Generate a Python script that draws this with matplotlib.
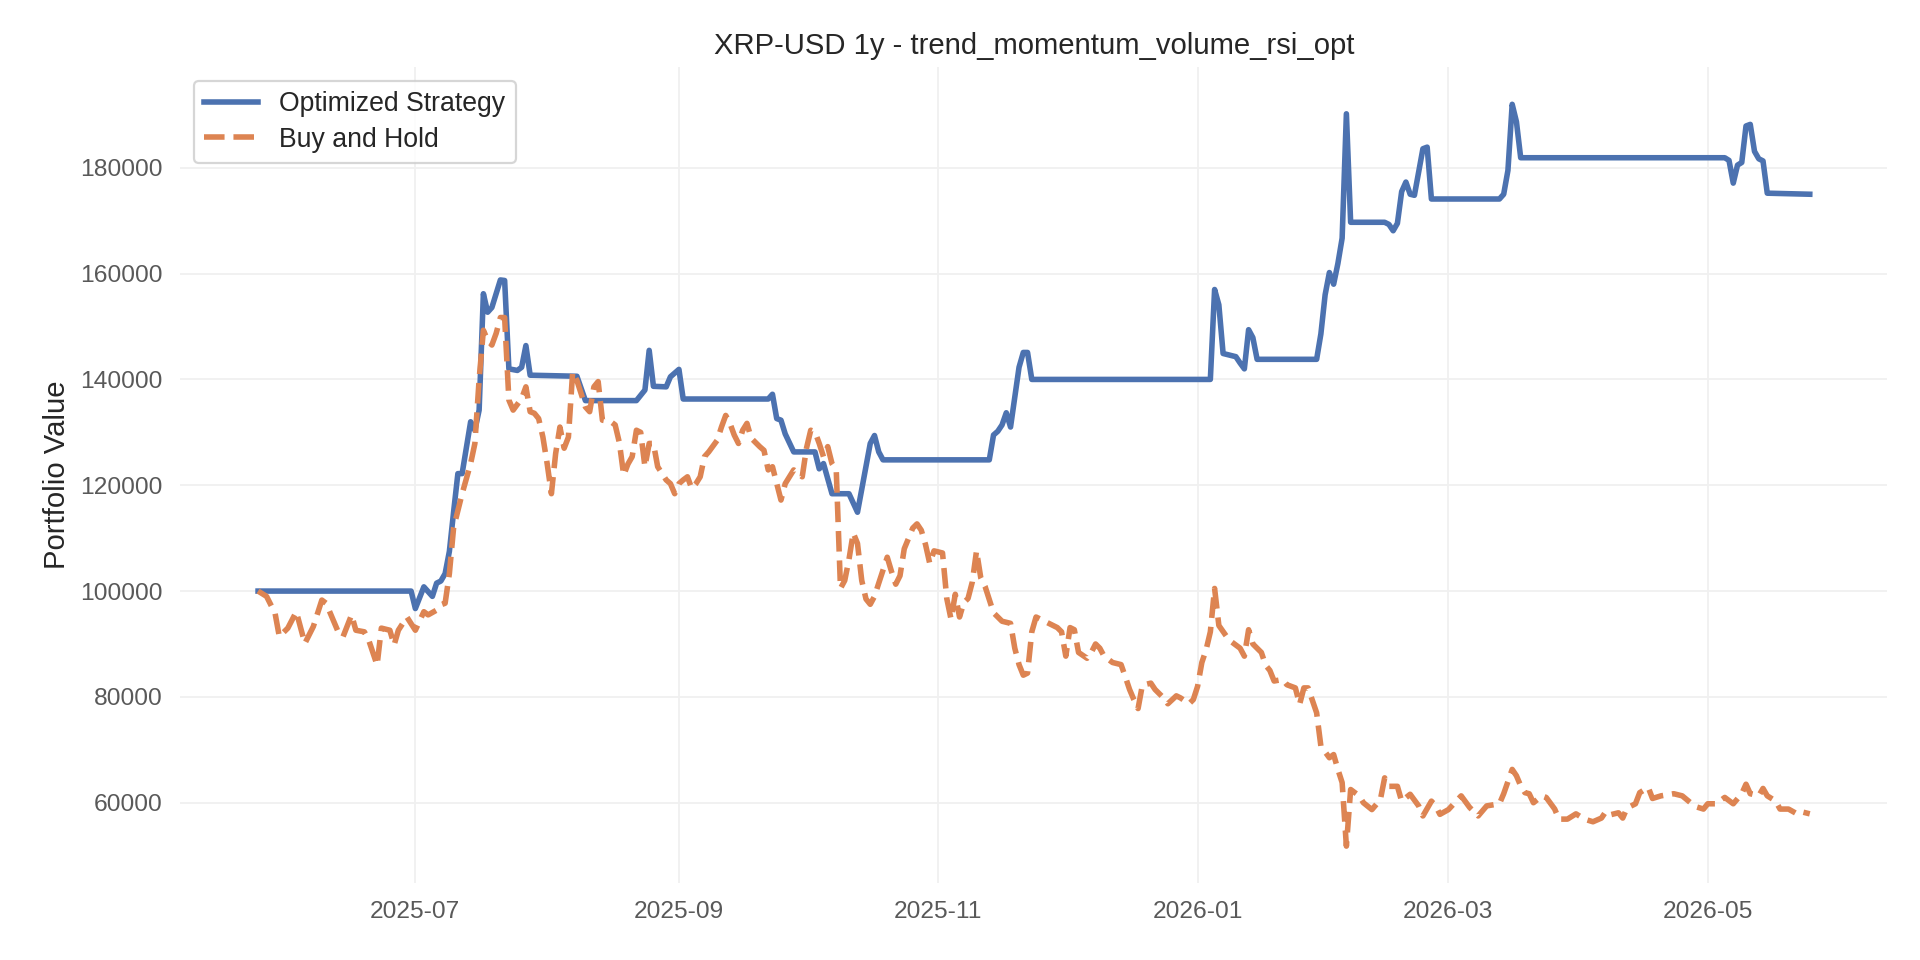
import pandas as pd
import matplotlib
matplotlib.use("Agg")
import matplotlib.pyplot as plt
import matplotlib.dates as mdates

# Data (day offsets from the start date)
start_date = pd.Timestamp("2025-05-25")

strategy_days = [0, 36, 37, 39, 41, 42, 43, 44, 45, 46, 47, 48, 50, 51, 52, 53, 54, 55, 56, 57,
                 58, 59, 61, 62, 63, 64, 75, 77, 89, 91, 92, 93, 96, 97, 99, 100, 120, 121, 122, 123,
                 124, 126, 131, 132, 133, 135, 139, 141, 144, 145, 146, 147, 172, 173, 174, 175, 176, 177, 179, 180,
                 181, 182, 224, 225, 226, 227, 230, 231, 232, 233, 234, 235, 249, 250, 251, 252, 253, 254, 255, 256,
                 257, 265, 266, 267, 268, 269, 270, 271, 272, 274, 275, 276, 292, 293, 294, 295, 296, 297, 345, 346,
                 347, 348, 349, 350, 351, 352, 353, 354, 355, 365]
strategy_values = [100000, 100000, 96700, 100800, 99000, 101500, 101900, 103300, 107500, 115000,
                   122200, 122200, 132000, 130400, 134200, 156200, 152700, 153600, 156200, 158800,
                   158700, 142000, 141700, 142300, 146400, 140800, 140600, 136000, 136000, 138000,
                   145500, 138700, 138600, 140500, 141900, 136300, 136300, 137200, 132600, 132300,
                   129700, 126300, 126300, 123100, 124100, 118400, 118400, 114900, 127900, 129400,
                   126300, 124800, 124800, 129500, 130200, 131400, 133700, 131000, 142300, 145100,
                   145100, 140000, 140000, 157000, 154100, 144900, 144300, 143100, 142000, 149400,
                   147900, 143800, 143800, 148600, 156000, 160200, 158000, 161900, 166700, 190200,
                   169700, 169700, 169300, 168100, 169500, 175500, 177300, 175000, 174800, 183600,
                   183900, 174100, 174100, 175000, 179500, 192000, 188700, 181900, 181900, 181400,
                   177100, 180500, 181000, 187900, 188200, 183100, 181700, 181300, 175200, 175000]

bh_days = [0, 2, 4, 5, 7, 9, 11, 13, 15, 16, 19, 20, 22, 23, 25, 26, 28, 29, 31, 32,
           33, 35, 37, 39, 40, 42, 43, 44, 45, 46, 48, 50, 51, 52, 53, 54, 55, 56, 57, 58,
           59, 60, 62, 63, 64, 65, 66, 67, 68, 69, 70, 71, 72, 73, 74, 75, 76, 77, 78, 79,
           80, 81, 83, 84, 85, 86, 87, 88, 89, 90, 91, 92, 93, 94, 96, 97, 98, 99, 100, 101,
           102, 103, 104, 105, 106, 108, 109, 110, 111, 112, 113, 114, 115, 116, 118, 119, 120, 121, 123, 124,
           126, 128, 129, 130, 131, 132, 133, 134, 135, 136, 137, 138, 139, 140, 141, 142, 143, 144, 145, 146,
           148, 149, 150, 151, 152, 154, 155, 156, 157, 158, 159, 161, 162, 163, 164, 165, 166, 167, 168, 169,
           170, 171, 173, 175, 177, 178, 179, 180, 181, 182, 183, 185, 186, 188, 189, 190, 191, 192, 193, 195,
           196, 197, 198, 199, 201, 203, 204, 205, 206, 207, 208, 210, 211, 213, 214, 216, 217, 219, 220, 221,
           222, 223, 224, 225, 226, 228, 229, 231, 232, 233, 234, 236, 237, 238, 239, 241, 242, 244, 245, 246,
           247, 249, 250, 252, 253, 254, 255, 256, 257, 259, 260, 262, 264, 265, 266, 268, 269, 271, 273, 274,
           276, 277, 278, 280, 283, 285, 287, 289, 292, 293, 295, 296, 297, 298, 299, 300, 302, 303, 305, 306,
           308, 310, 312, 314, 316, 317, 318, 320, 321, 322, 324, 325, 327, 328, 330, 333, 335, 338, 340, 341,
           343, 345, 347, 349, 350, 351, 353, 354, 355, 357, 358, 360, 362, 363, 365]
bh_values = [100000, 99000, 95800, 91400, 93000, 96100, 90100, 93300, 98300, 97700,
             92000, 91400, 95500, 92600, 92300, 90800, 86000, 93000, 92600, 89800,
             92600, 95100, 92600, 96100, 95500, 96400, 97400, 97700, 103300, 112000,
             118400, 124100, 127900, 140000, 149300, 147400, 146500, 148700, 151700, 151700,
             136100, 134200, 136400, 138600, 133900, 133600, 132600, 129100, 124100, 118400,
             126000, 131000, 127000, 129100, 141400, 139800, 137300, 134800, 133900, 138600,
             139600, 132300, 132000, 131400, 128000, 121900, 124000, 125400, 130400, 130000,
             123500, 127900, 127900, 123500, 121000, 120300, 118400, 120300, 121000, 121600,
             119400, 120300, 121600, 125400, 126300, 128500, 131000, 133200, 131700, 129500,
             127900, 130400, 131700, 128900, 127300, 126600, 122900, 123500, 117200, 120300,
             122900, 121600, 127000, 130400, 130100, 127900, 125400, 127300, 124100, 122900,
             100500, 102000, 106000, 111000, 109000, 102000, 98500, 97500, 99000, 101500,
             106400, 103700, 101300, 102900, 108000, 111900, 112700, 111500, 108800, 105200,
             107600, 107200, 98600, 94700, 99400, 95100, 97800, 98600, 101700, 107600,
             102500, 100900, 95900, 94300, 93900, 89200, 86100, 84100, 84500, 92300,
             95100, 94300, 93900, 93100, 92300, 87700, 93100, 92700, 88400, 87300,
             88400, 90000, 89200, 87700, 86500, 86100, 83800, 81400, 79500, 77800,
             82200, 82600, 81400, 79800, 78700, 80200, 79800, 78700, 79500, 82000,
             86500, 88900, 92300, 100500, 93500, 91200, 90400, 89200, 87700, 92700,
             90000, 88400, 86000, 85000, 83000, 83300, 82300, 81700, 78600, 81700,
             81700, 77000, 70700, 68500, 69100, 66300, 63800, 51800, 62500, 61300,
             60000, 58700, 60600, 64700, 63100, 63100, 60300, 61600, 59400, 57500,
             60300, 59400, 57800, 58700, 61300, 59100, 57500, 59400, 59800, 61700,
             66300, 65100, 63200, 61900, 61700, 60000, 61300, 61000, 58800, 56900,
             56900, 57900, 56900, 56400, 57100, 58300, 57700, 58100, 57100, 59000,
             59800, 61900, 62900, 60800, 61300, 61700, 61300, 59300, 58800, 59800,
             59800, 61000, 59800, 61700, 63500, 61700, 61300, 62700, 61300, 60300,
             58800, 58800, 57900, 58300, 57900]

strategy_dates = start_date + pd.to_timedelta(strategy_days, unit="D")
bh_dates = start_date + pd.to_timedelta(bh_days, unit="D")

plt.rcParams["font.family"] = ["Liberation Sans", "DejaVu Sans"]

fig, ax = plt.subplots(figsize=(12, 6), dpi=160)
fig.subplots_adjust(left=0.094, right=0.983, top=0.930, bottom=0.080)

ax.plot(strategy_dates, strategy_values, color="#4c72b0", linewidth=2.5, label="Optimized Strategy")
ax.plot(bh_dates, bh_values, color="#dd8452", linewidth=2.5, linestyle="--", label="Buy and Hold")

ax.set_title("XRP-USD 1y - trend_momentum_volume_rsi_opt", fontsize=13.2, color="#262626")
ax.set_ylabel("Portfolio Value", fontsize=13.2, color="#262626")

ax.xaxis.set_major_locator(mdates.MonthLocator(bymonth=[1, 3, 5, 7, 9, 11]))
ax.xaxis.set_major_formatter(mdates.DateFormatter("%Y-%m"))
ax.ticklabel_format(axis="y", style="plain")

ax.tick_params(axis="both", labelsize=11, colors="#595959", length=0, pad=8)
ax.grid(True, color="#f0f0f0", linewidth=0.8)
ax.set_axisbelow(True)
for spine in ax.spines.values():
    spine.set_visible(False)

leg = ax.legend(loc="upper left", fontsize=12, frameon=True, fancybox=True, labelspacing=0.35)
leg.get_frame().set_edgecolor("#cccccc")
for text in leg.get_texts():
    text.set_color("#262626")

plt.savefig("out.png", dpi=160, facecolor="white")
